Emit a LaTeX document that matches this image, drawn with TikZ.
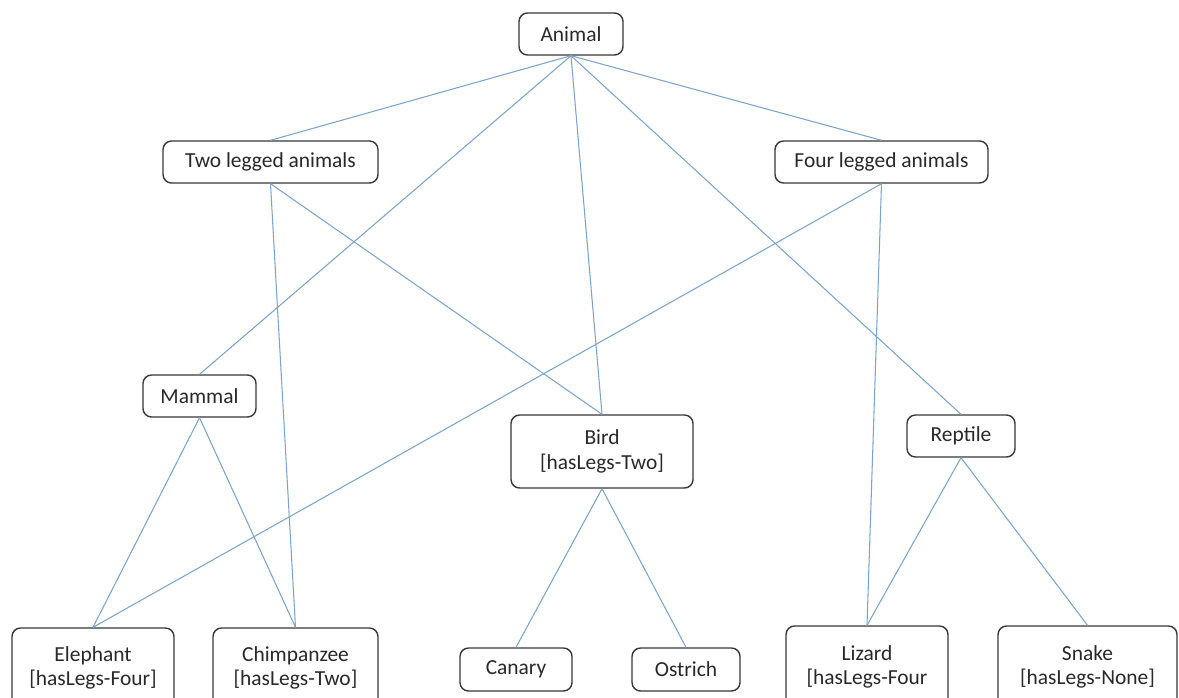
\documentclass[tikz,border=0pt]{standalone}
\usepackage{fontspec}
\setmainfont{Carlito}
\definecolor{linkblue}{RGB}{125,163,200}
\definecolor{boxgray}{RGB}{55,55,55}
\definecolor{textgray}{RGB}{40,40,40}
\begin{document}
\begin{tikzpicture}[x=0.02cm, y=-0.02cm,
    box/.style={draw=boxgray, line width=0.8pt, rounded corners=0.17cm, fill=white, text=textgray, inner sep=0pt, align=center, font=\fontsize{12.2}{14}\selectfont},
    link/.style={draw=linkblue, line width=0.6pt}]
                \useasboundingbox (0, 0) rectangle (1179, 697);
                \clip (0, 0) rectangle (1179, 697);
                \node [box, minimum width=2.08cm, minimum height=0.84cm] (animal) at (571, 34) {Animal};
                \node [box, minimum width=4.3cm, minimum height=0.84cm] (twoleg) at (270.5, 162) {Two legged animals};
                \node [box, minimum width=4.26cm, minimum height=0.84cm] (fourleg) at (881.5, 162) {Four legged animals};
                \node [box, minimum width=2.26cm, minimum height=0.84cm] (mammal) at (199.5, 396) {Mammal};
                \node [box, minimum width=3.64cm, minimum height=1.46cm] (bird) at (602, 451.5) {Bird\\{}[hasLegs-Two]};
                \node [box, minimum width=2.16cm, minimum height=0.84cm] (reptile) at (961, 436) {Reptile};
                \node [box, minimum width=3.24cm, minimum height=1.6cm] (elephant) at (93, 668) {Elephant\\{}[hasLegs-Four]};
                \node [box, minimum width=3.3cm, minimum height=1.6cm] (chimp) at (295.5, 668) {Chimpanzee\\{}[hasLegs-Two]};
                \node [box, minimum width=2.24cm, minimum height=0.86cm] (canary) at (516, 669.5) {Canary};
                \node [box, minimum width=2.16cm, minimum height=0.86cm] (ostrich) at (686, 669.5) {Ostrich};
                \node [box, minimum width=3.24cm, minimum height=1.64cm] (lizard) at (867, 667) {Lizard\\{}[hasLegs-Four};
                \node [box, minimum width=3.58cm, minimum height=1.64cm] (snake) at (1087.5, 667) {Snake\\{}[hasLegs-None]};
                \draw [link] (animal.south) -- (twoleg.north);
                \draw [link] (animal.south) -- (fourleg.north);
                \draw [link] (animal.south) -- (mammal.north);
                \draw [link] (animal.south) -- (bird.north);
                \draw [link] (animal.south) -- (reptile.north);
                \draw [link] (twoleg.south) -- (chimp.north);
                \draw [link] (twoleg.south) -- (bird.north);
                \draw [link] (fourleg.south) -- (elephant.north);
                \draw [link] (fourleg.south) -- (lizard.north);
                \draw [link] (mammal.south) -- (elephant.north);
                \draw [link] (mammal.south) -- (chimp.north);
                \draw [link] (bird.south) -- (canary.north);
                \draw [link] (bird.south) -- (ostrich.north);
                \draw [link] (reptile.south) -- (lizard.north);
                \draw [link] (reptile.south) -- (snake.north);
            \end{tikzpicture}
\end{document}
